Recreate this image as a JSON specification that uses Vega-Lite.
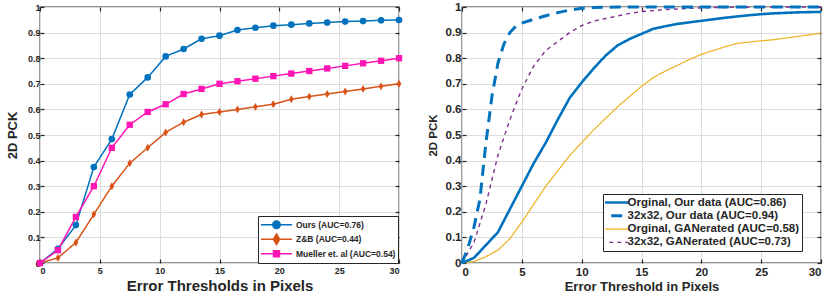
{
  "$schema": "https://vega.github.io/schema/vega-lite/v6.json",
  "autosize": {"type": "pad"},
  "padding": {"left": 5, "top": 0, "right": 0, "bottom": 0},
  "background": "white",
  "config": {
    "font": "Liberation Sans",
    "view": {"stroke": "#262626", "strokeWidth": 1.3},
    "axis": {
      "labelFontWeight": "bold",
      "labelColor": "#262626",
      "titleColor": "#262626",
      "titleFontWeight": "bold",
      "tickColor": "#262626",
      "tickSize": -4,
      "tickWidth": 1.2,
      "domain": false,
      "gridColor": "#dcdcdc",
      "gridWidth": 1
    },
    "legend": {
      "labelFont": "Liberation Sans",
      "labelFontWeight": "bold",
      "labelColor": "#262626",
      "strokeColor": "#262626",
      "fillColor": "white",
      "labelLimit": 400
    }
  },
  "resolve": {
    "scale": {"color": "independent", "strokeDash": "independent"},
    "legend": {"color": "independent", "strokeDash": "independent"}
  },
  "datasets": {
    "left": [
      {"x": 0, "y": 0, "series": "Ours (AUC=0.76)"},
      {"x": 1.5, "y": 0.055, "series": "Ours (AUC=0.76)"},
      {"x": 3, "y": 0.148, "series": "Ours (AUC=0.76)"},
      {"x": 4.5, "y": 0.375, "series": "Ours (AUC=0.76)"},
      {"x": 6, "y": 0.484, "series": "Ours (AUC=0.76)"},
      {"x": 7.5, "y": 0.658, "series": "Ours (AUC=0.76)"},
      {"x": 9, "y": 0.725, "series": "Ours (AUC=0.76)"},
      {"x": 10.5, "y": 0.807, "series": "Ours (AUC=0.76)"},
      {"x": 12, "y": 0.836, "series": "Ours (AUC=0.76)"},
      {"x": 13.5, "y": 0.876, "series": "Ours (AUC=0.76)"},
      {"x": 15, "y": 0.888, "series": "Ours (AUC=0.76)"},
      {"x": 16.5, "y": 0.91, "series": "Ours (AUC=0.76)"},
      {"x": 18, "y": 0.919, "series": "Ours (AUC=0.76)"},
      {"x": 19.5, "y": 0.927, "series": "Ours (AUC=0.76)"},
      {"x": 21, "y": 0.931, "series": "Ours (AUC=0.76)"},
      {"x": 22.5, "y": 0.936, "series": "Ours (AUC=0.76)"},
      {"x": 24, "y": 0.939, "series": "Ours (AUC=0.76)"},
      {"x": 25.5, "y": 0.943, "series": "Ours (AUC=0.76)"},
      {"x": 27, "y": 0.945, "series": "Ours (AUC=0.76)"},
      {"x": 28.5, "y": 0.948, "series": "Ours (AUC=0.76)"},
      {"x": 30, "y": 0.949, "series": "Ours (AUC=0.76)"},
      {"x": 0, "y": 0, "series": "Z&B (AUC=0.44)"},
      {"x": 1.5, "y": 0.02, "series": "Z&B (AUC=0.44)"},
      {"x": 3, "y": 0.08, "series": "Z&B (AUC=0.44)"},
      {"x": 4.5, "y": 0.19, "series": "Z&B (AUC=0.44)"},
      {"x": 6, "y": 0.3, "series": "Z&B (AUC=0.44)"},
      {"x": 7.5, "y": 0.39, "series": "Z&B (AUC=0.44)"},
      {"x": 9, "y": 0.45, "series": "Z&B (AUC=0.44)"},
      {"x": 10.5, "y": 0.51, "series": "Z&B (AUC=0.44)"},
      {"x": 12, "y": 0.55, "series": "Z&B (AUC=0.44)"},
      {"x": 13.5, "y": 0.58, "series": "Z&B (AUC=0.44)"},
      {"x": 15, "y": 0.59, "series": "Z&B (AUC=0.44)"},
      {"x": 16.5, "y": 0.6, "series": "Z&B (AUC=0.44)"},
      {"x": 18, "y": 0.61, "series": "Z&B (AUC=0.44)"},
      {"x": 19.5, "y": 0.62, "series": "Z&B (AUC=0.44)"},
      {"x": 21, "y": 0.64, "series": "Z&B (AUC=0.44)"},
      {"x": 22.5, "y": 0.65, "series": "Z&B (AUC=0.44)"},
      {"x": 24, "y": 0.66, "series": "Z&B (AUC=0.44)"},
      {"x": 25.5, "y": 0.67, "series": "Z&B (AUC=0.44)"},
      {"x": 27, "y": 0.68, "series": "Z&B (AUC=0.44)"},
      {"x": 28.5, "y": 0.69, "series": "Z&B (AUC=0.44)"},
      {"x": 30, "y": 0.7, "series": "Z&B (AUC=0.44)"},
      {"x": 0, "y": 0, "series": "Mueller et. al (AUC=0.54)"},
      {"x": 1.5, "y": 0.05, "series": "Mueller et. al (AUC=0.54)"},
      {"x": 3, "y": 0.18, "series": "Mueller et. al (AUC=0.54)"},
      {"x": 4.5, "y": 0.3, "series": "Mueller et. al (AUC=0.54)"},
      {"x": 6, "y": 0.45, "series": "Mueller et. al (AUC=0.54)"},
      {"x": 7.5, "y": 0.54, "series": "Mueller et. al (AUC=0.54)"},
      {"x": 9, "y": 0.59, "series": "Mueller et. al (AUC=0.54)"},
      {"x": 10.5, "y": 0.62, "series": "Mueller et. al (AUC=0.54)"},
      {"x": 12, "y": 0.66, "series": "Mueller et. al (AUC=0.54)"},
      {"x": 13.5, "y": 0.68, "series": "Mueller et. al (AUC=0.54)"},
      {"x": 15, "y": 0.7, "series": "Mueller et. al (AUC=0.54)"},
      {"x": 16.5, "y": 0.71, "series": "Mueller et. al (AUC=0.54)"},
      {"x": 18, "y": 0.72, "series": "Mueller et. al (AUC=0.54)"},
      {"x": 19.5, "y": 0.73, "series": "Mueller et. al (AUC=0.54)"},
      {"x": 21, "y": 0.74, "series": "Mueller et. al (AUC=0.54)"},
      {"x": 22.5, "y": 0.75, "series": "Mueller et. al (AUC=0.54)"},
      {"x": 24, "y": 0.76, "series": "Mueller et. al (AUC=0.54)"},
      {"x": 25.5, "y": 0.77, "series": "Mueller et. al (AUC=0.54)"},
      {"x": 27, "y": 0.78, "series": "Mueller et. al (AUC=0.54)"},
      {"x": 28.5, "y": 0.79, "series": "Mueller et. al (AUC=0.54)"},
      {"x": 30, "y": 0.8, "series": "Mueller et. al (AUC=0.54)"}
    ],
    "right": [
      {"x": 0, "y": 0, "series": "Orginal, Our data (AUC=0.86)"},
      {"x": 1, "y": 0.02, "series": "Orginal, Our data (AUC=0.86)"},
      {"x": 2, "y": 0.07, "series": "Orginal, Our data (AUC=0.86)"},
      {"x": 3, "y": 0.12, "series": "Orginal, Our data (AUC=0.86)"},
      {"x": 4, "y": 0.21, "series": "Orginal, Our data (AUC=0.86)"},
      {"x": 5, "y": 0.3, "series": "Orginal, Our data (AUC=0.86)"},
      {"x": 6, "y": 0.39, "series": "Orginal, Our data (AUC=0.86)"},
      {"x": 7, "y": 0.47, "series": "Orginal, Our data (AUC=0.86)"},
      {"x": 8, "y": 0.56, "series": "Orginal, Our data (AUC=0.86)"},
      {"x": 9, "y": 0.645, "series": "Orginal, Our data (AUC=0.86)"},
      {"x": 10, "y": 0.705, "series": "Orginal, Our data (AUC=0.86)"},
      {"x": 11, "y": 0.76, "series": "Orginal, Our data (AUC=0.86)"},
      {"x": 12, "y": 0.81, "series": "Orginal, Our data (AUC=0.86)"},
      {"x": 13, "y": 0.85, "series": "Orginal, Our data (AUC=0.86)"},
      {"x": 14, "y": 0.875, "series": "Orginal, Our data (AUC=0.86)"},
      {"x": 15, "y": 0.895, "series": "Orginal, Our data (AUC=0.86)"},
      {"x": 16, "y": 0.915, "series": "Orginal, Our data (AUC=0.86)"},
      {"x": 17, "y": 0.925, "series": "Orginal, Our data (AUC=0.86)"},
      {"x": 18, "y": 0.934, "series": "Orginal, Our data (AUC=0.86)"},
      {"x": 19, "y": 0.94, "series": "Orginal, Our data (AUC=0.86)"},
      {"x": 20, "y": 0.946, "series": "Orginal, Our data (AUC=0.86)"},
      {"x": 21, "y": 0.952, "series": "Orginal, Our data (AUC=0.86)"},
      {"x": 22, "y": 0.958, "series": "Orginal, Our data (AUC=0.86)"},
      {"x": 23, "y": 0.963, "series": "Orginal, Our data (AUC=0.86)"},
      {"x": 24, "y": 0.968, "series": "Orginal, Our data (AUC=0.86)"},
      {"x": 25, "y": 0.972, "series": "Orginal, Our data (AUC=0.86)"},
      {"x": 26, "y": 0.975, "series": "Orginal, Our data (AUC=0.86)"},
      {"x": 27, "y": 0.977, "series": "Orginal, Our data (AUC=0.86)"},
      {"x": 28, "y": 0.979, "series": "Orginal, Our data (AUC=0.86)"},
      {"x": 29, "y": 0.98, "series": "Orginal, Our data (AUC=0.86)"},
      {"x": 30, "y": 0.981, "series": "Orginal, Our data (AUC=0.86)"},
      {"x": 0, "y": 0, "series": "32x32, Our data (AUC=0.94)"},
      {"x": 0.5, "y": 0.06, "series": "32x32, Our data (AUC=0.94)"},
      {"x": 1, "y": 0.14, "series": "32x32, Our data (AUC=0.94)"},
      {"x": 1.5, "y": 0.25, "series": "32x32, Our data (AUC=0.94)"},
      {"x": 2, "y": 0.47, "series": "32x32, Our data (AUC=0.94)"},
      {"x": 2.5, "y": 0.65, "series": "32x32, Our data (AUC=0.94)"},
      {"x": 3, "y": 0.78, "series": "32x32, Our data (AUC=0.94)"},
      {"x": 3.5, "y": 0.855, "series": "32x32, Our data (AUC=0.94)"},
      {"x": 4, "y": 0.9, "series": "32x32, Our data (AUC=0.94)"},
      {"x": 4.5, "y": 0.925, "series": "32x32, Our data (AUC=0.94)"},
      {"x": 5, "y": 0.937, "series": "32x32, Our data (AUC=0.94)"},
      {"x": 6, "y": 0.952, "series": "32x32, Our data (AUC=0.94)"},
      {"x": 7, "y": 0.966, "series": "32x32, Our data (AUC=0.94)"},
      {"x": 8, "y": 0.978, "series": "32x32, Our data (AUC=0.94)"},
      {"x": 9, "y": 0.988, "series": "32x32, Our data (AUC=0.94)"},
      {"x": 10, "y": 0.995, "series": "32x32, Our data (AUC=0.94)"},
      {"x": 11, "y": 0.998, "series": "32x32, Our data (AUC=0.94)"},
      {"x": 13, "y": 1, "series": "32x32, Our data (AUC=0.94)"},
      {"x": 20, "y": 1, "series": "32x32, Our data (AUC=0.94)"},
      {"x": 30, "y": 1, "series": "32x32, Our data (AUC=0.94)"},
      {"x": 0, "y": 0, "series": "Orginal, GANerated (AUC=0.58)"},
      {"x": 1, "y": 0.006, "series": "Orginal, GANerated (AUC=0.58)"},
      {"x": 2, "y": 0.025, "series": "Orginal, GANerated (AUC=0.58)"},
      {"x": 3, "y": 0.05, "series": "Orginal, GANerated (AUC=0.58)"},
      {"x": 4, "y": 0.095, "series": "Orginal, GANerated (AUC=0.58)"},
      {"x": 5, "y": 0.16, "series": "Orginal, GANerated (AUC=0.58)"},
      {"x": 6, "y": 0.23, "series": "Orginal, GANerated (AUC=0.58)"},
      {"x": 7, "y": 0.3, "series": "Orginal, GANerated (AUC=0.58)"},
      {"x": 8, "y": 0.36, "series": "Orginal, GANerated (AUC=0.58)"},
      {"x": 9, "y": 0.42, "series": "Orginal, GANerated (AUC=0.58)"},
      {"x": 10, "y": 0.47, "series": "Orginal, GANerated (AUC=0.58)"},
      {"x": 11, "y": 0.52, "series": "Orginal, GANerated (AUC=0.58)"},
      {"x": 12, "y": 0.565, "series": "Orginal, GANerated (AUC=0.58)"},
      {"x": 13, "y": 0.61, "series": "Orginal, GANerated (AUC=0.58)"},
      {"x": 14, "y": 0.65, "series": "Orginal, GANerated (AUC=0.58)"},
      {"x": 15, "y": 0.69, "series": "Orginal, GANerated (AUC=0.58)"},
      {"x": 16, "y": 0.725, "series": "Orginal, GANerated (AUC=0.58)"},
      {"x": 17, "y": 0.75, "series": "Orginal, GANerated (AUC=0.58)"},
      {"x": 18, "y": 0.772, "series": "Orginal, GANerated (AUC=0.58)"},
      {"x": 19, "y": 0.795, "series": "Orginal, GANerated (AUC=0.58)"},
      {"x": 20, "y": 0.815, "series": "Orginal, GANerated (AUC=0.58)"},
      {"x": 21, "y": 0.83, "series": "Orginal, GANerated (AUC=0.58)"},
      {"x": 22, "y": 0.845, "series": "Orginal, GANerated (AUC=0.58)"},
      {"x": 23, "y": 0.858, "series": "Orginal, GANerated (AUC=0.58)"},
      {"x": 24, "y": 0.863, "series": "Orginal, GANerated (AUC=0.58)"},
      {"x": 25, "y": 0.868, "series": "Orginal, GANerated (AUC=0.58)"},
      {"x": 26, "y": 0.872, "series": "Orginal, GANerated (AUC=0.58)"},
      {"x": 27, "y": 0.878, "series": "Orginal, GANerated (AUC=0.58)"},
      {"x": 28, "y": 0.885, "series": "Orginal, GANerated (AUC=0.58)"},
      {"x": 29, "y": 0.891, "series": "Orginal, GANerated (AUC=0.58)"},
      {"x": 30, "y": 0.898, "series": "Orginal, GANerated (AUC=0.58)"},
      {"x": 0, "y": 0, "series": "32x32, GANerated (AUC=0.73)"},
      {"x": 1, "y": 0.08, "series": "32x32, GANerated (AUC=0.73)"},
      {"x": 2, "y": 0.23, "series": "32x32, GANerated (AUC=0.73)"},
      {"x": 3, "y": 0.42, "series": "32x32, GANerated (AUC=0.73)"},
      {"x": 4, "y": 0.56, "series": "32x32, GANerated (AUC=0.73)"},
      {"x": 5, "y": 0.68, "series": "32x32, GANerated (AUC=0.73)"},
      {"x": 6, "y": 0.77, "series": "32x32, GANerated (AUC=0.73)"},
      {"x": 7, "y": 0.83, "series": "32x32, GANerated (AUC=0.73)"},
      {"x": 8, "y": 0.865, "series": "32x32, GANerated (AUC=0.73)"},
      {"x": 9, "y": 0.9, "series": "32x32, GANerated (AUC=0.73)"},
      {"x": 10, "y": 0.927, "series": "32x32, GANerated (AUC=0.73)"},
      {"x": 11, "y": 0.945, "series": "32x32, GANerated (AUC=0.73)"},
      {"x": 12, "y": 0.955, "series": "32x32, GANerated (AUC=0.73)"},
      {"x": 13, "y": 0.965, "series": "32x32, GANerated (AUC=0.73)"},
      {"x": 14, "y": 0.975, "series": "32x32, GANerated (AUC=0.73)"},
      {"x": 15, "y": 0.982, "series": "32x32, GANerated (AUC=0.73)"},
      {"x": 17, "y": 0.99, "series": "32x32, GANerated (AUC=0.73)"},
      {"x": 20, "y": 0.997, "series": "32x32, GANerated (AUC=0.73)"},
      {"x": 25, "y": 1, "series": "32x32, GANerated (AUC=0.73)"},
      {"x": 30, "y": 1, "series": "32x32, GANerated (AUC=0.73)"}
    ]
  },
  "hconcat": [
    {
      "width": 359,
      "height": 256,
      "data": {"name": "left"},
      "encoding": {
        "color": {"field": "series", "type": "nominal",
          "scale": {"domain": ["Ours (AUC=0.76)", "Z&B (AUC=0.44)", "Mueller et. al (AUC=0.54)"], "range": ["#0072BD", "#D95319", "#FF14B4"]},
          "legend": {"title": null, "orient": "none", "legendX": 218, "legendY": 209, "labelFontSize": 8.5, "symbolSize": 961, "clipHeight": 13.5, "rowPadding": 0.5, "padding": 2, "labelOffset": 3, "strokeColor": "#262626", "fillColor": "white",
            "encode": {"symbols": {"update": {
              "shape": {"signal": "datum.value === 'Ours (AUC=0.76)' ? 'M-1,0H1M0.24,0A0.24,0.24,0,1,1,-0.24,0A0.24,0.24,0,1,1,0.24,0Z' : datum.value === 'Z&B (AUC=0.44)' ? 'M-1,0H1M0,-0.34L0.2,0L0,0.34L-0.2,0Z' : 'M-1,0H1M-0.19,-0.19H0.19V0.19H-0.19Z'"},
              "stroke": {"signal": "datum.value === 'Ours (AUC=0.76)' ? '#0072BD' : datum.value === 'Z&B (AUC=0.44)' ? '#D95319' : '#FF14B4'"},
              "fill": {"signal": "datum.value === 'Ours (AUC=0.76)' ? '#0072BD' : datum.value === 'Z&B (AUC=0.44)' ? '#D95319' : '#FF14B4'"},
              "strokeWidth": {"value": 1.5},
              "opacity": {"value": 1}
            }}}}}
      },
      "layer": [
        {
          "mark": {"type": "line", "strokeWidth": 1.5},
          "encoding": {
            "x": {"field": "x", "type": "quantitative", "scale": {"domain": [0, 30], "nice": false},
              "axis": {"orient": "bottom", "values": [0, 5, 10, 15, 20, 25, 30], "format": "~g", "labelFontSize": 9, "labelPadding": 7, "title": "Error Thresholds in Pixels", "titleFontSize": 15, "titlePadding": 3, "grid": true}},
            "y": {"field": "y", "type": "quantitative", "scale": {"domain": [0, 1], "nice": false},
              "axis": {"orient": "left", "values": [0, 0.1, 0.2, 0.3, 0.4, 0.5, 0.6, 0.7, 0.8, 0.9, 1], "format": "~g", "labelFontSize": 9, "labelPadding": 4, "title": "2D PCK", "titleFontSize": 13, "titlePadding": 8, "grid": true}}
          }
        },
        {
          "transform": [{"filter": {"field": "series", "equal": "Ours (AUC=0.76)"}}],
          "mark": {"type": "point", "filled": true, "opacity": 1, "size": 44, "shape": "circle"},
          "encoding": {
            "x": {"field": "x", "type": "quantitative", "axis": null},
            "y": {"field": "y", "type": "quantitative", "axis": null}
          }
        },
        {
          "transform": [{"filter": {"field": "series", "equal": "Z&B (AUC=0.44)"}}],
          "mark": {"type": "point", "filled": true, "opacity": 1, "size": 40, "shape": "M0,-1.25L0.75,0L0,1.25L-0.75,0Z"},
          "encoding": {
            "x": {"field": "x", "type": "quantitative", "axis": null},
            "y": {"field": "y", "type": "quantitative", "axis": null}
          }
        },
        {
          "transform": [{"filter": {"field": "series", "equal": "Mueller et. al (AUC=0.54)"}}],
          "mark": {"type": "point", "filled": true, "opacity": 1, "size": 40, "shape": "square"},
          "encoding": {
            "x": {"field": "x", "type": "quantitative",
              "axis": {"orient": "top", "values": [0, 5, 10, 15, 20, 25, 30], "labels": false, "title": null, "grid": false}},
            "y": {"field": "y", "type": "quantitative",
              "axis": {"orient": "right", "values": [0, 0.1, 0.2, 0.3, 0.4, 0.5, 0.6, 0.7, 0.8, 0.9, 1], "labels": false, "title": null, "grid": false}}
          }
        }
      ],
      "resolve": {"axis": {"x": "independent", "y": "independent"}}
    },
    {
      "width": 359,
      "height": 256,
      "data": {"name": "right"},
      "encoding": {
        "color": {"field": "series", "type": "nominal",
          "scale": {"domain": ["Orginal, Our data (AUC=0.86)", "32x32, Our data (AUC=0.94)", "Orginal, GANerated (AUC=0.58)", "32x32, GANerated (AUC=0.73)"], "range": ["#0072BD", "#0072BD", "#EDB120", "#7E2F8E"]},
          "legend": {"title": null, "orient": "none", "legendX": 141, "legendY": 187, "labelFontSize": 11.5, "labelLimit": 400, "symbolType": "stroke", "symbolSize": 1225, "clipHeight": 13, "rowPadding": 0.3, "padding": 2, "labelOffset": 11, "strokeColor": "#262626", "fillColor": "white",
            "encode": {"symbols": {"update": {
              "strokeWidth": {"signal": "datum.value === 'Orginal, Our data (AUC=0.86)' ? 2.6 : datum.value === '32x32, Our data (AUC=0.94)' ? 3 : datum.value === 'Orginal, GANerated (AUC=0.58)' ? 1.2 : 1.4"}
            }}}}},
        "strokeDash": {"field": "series", "type": "nominal",
          "scale": {"domain": ["Orginal, Our data (AUC=0.86)", "32x32, Our data (AUC=0.94)", "Orginal, GANerated (AUC=0.58)", "32x32, GANerated (AUC=0.73)"], "range": [[1, 0], [11, 7], [1, 0], [4, 4]]},
          "legend": {"title": null, "orient": "none", "legendX": 141, "legendY": 187, "labelFontSize": 11.5, "labelLimit": 400, "symbolType": "stroke", "symbolSize": 1225, "clipHeight": 13, "rowPadding": 0.3, "padding": 2, "labelOffset": 11, "strokeColor": "#262626", "fillColor": "white",
            "encode": {"symbols": {"update": {
              "strokeWidth": {"signal": "datum.value === 'Orginal, Our data (AUC=0.86)' ? 2.6 : datum.value === '32x32, Our data (AUC=0.94)' ? 3 : datum.value === 'Orginal, GANerated (AUC=0.58)' ? 1.2 : 1.4"}
            }}}}}
      },
      "layer": [
        {
          "transform": [{"filter": {"field": "series", "equal": "Orginal, GANerated (AUC=0.58)"}}],
          "mark": {"type": "line", "strokeWidth": 1.2},
          "encoding": {
            "x": {"field": "x", "type": "quantitative", "scale": {"domain": [0, 30], "nice": false},
              "axis": {"orient": "bottom", "values": [0, 5, 10, 15, 20, 25, 30], "format": "~g", "labelFontSize": 11.5, "labelPadding": 7, "title": "Error Threshold in Pixels", "titleFontSize": 13, "titlePadding": 3, "grid": true}},
            "y": {"field": "y", "type": "quantitative", "scale": {"domain": [0, 1], "nice": false},
              "axis": {"orient": "left", "values": [0, 0.1, 0.2, 0.3, 0.4, 0.5, 0.6, 0.7, 0.8, 0.9, 1], "format": "~g", "labelFontSize": 11.5, "labelPadding": 5, "title": "2D PCK", "titleFontSize": 11.5, "titlePadding": 7, "grid": true}}
          }
        },
        {
          "transform": [{"filter": {"field": "series", "equal": "32x32, GANerated (AUC=0.73)"}}],
          "mark": {"type": "line", "strokeWidth": 1.4},
          "encoding": {
            "x": {"field": "x", "type": "quantitative", "axis": null},
            "y": {"field": "y", "type": "quantitative", "axis": null}
          }
        },
        {
          "transform": [{"filter": {"field": "series", "equal": "Orginal, Our data (AUC=0.86)"}}],
          "mark": {"type": "line", "strokeWidth": 2.6},
          "encoding": {
            "x": {"field": "x", "type": "quantitative", "axis": null},
            "y": {"field": "y", "type": "quantitative", "axis": null}
          }
        },
        {
          "transform": [{"filter": {"field": "series", "equal": "32x32, Our data (AUC=0.94)"}}],
          "mark": {"type": "line", "strokeWidth": 3},
          "encoding": {
            "x": {"field": "x", "type": "quantitative",
              "axis": {"orient": "top", "values": [0, 5, 10, 15, 20, 25, 30], "labels": false, "title": null, "grid": false}},
            "y": {"field": "y", "type": "quantitative",
              "axis": {"orient": "right", "values": [0, 0.1, 0.2, 0.3, 0.4, 0.5, 0.6, 0.7, 0.8, 0.9, 1], "labels": false, "title": null, "grid": false}}
          }
        }
      ],
      "resolve": {"axis": {"x": "independent", "y": "independent"}}
    }
  ],
  "spacing": 63,
  "bounds": "flush"
}
